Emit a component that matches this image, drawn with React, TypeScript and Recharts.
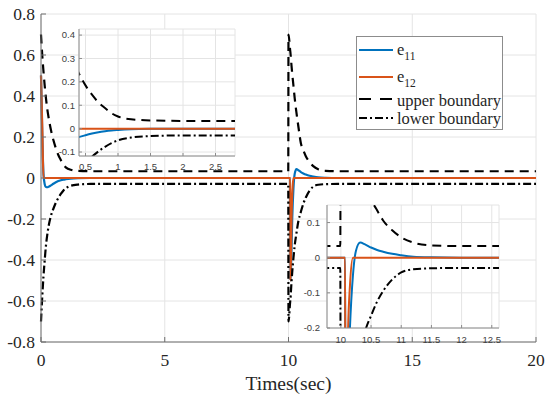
import { CartesianGrid, Label, Legend, Line, LineChart, XAxis, YAxis } from 'recharts'

// Samples (time in seconds). Two entries sit close together
// around t = 10 so the boundary reset and the e12 kick draw as near-vertical jumps.
const TIME = [
  0, 0.05, 0.1, 0.15, 0.2, 0.25, 0.3, 0.4, 0.5, 0.6, 0.7, 0.8, 0.9, 1.0, 1.2, 1.5, 2, 3, 5, 9.99,
  10, 10.07, 10.075, 10.1, 10.12, 10.15, 10.2, 10.25, 10.32, 10.4, 10.5, 10.6, 10.7, 10.85, 11, 11.2,
  11.5, 12, 13, 15, 20,
]
const E11 = [
  0.5, 0.22, 0.02, -0.03, -0.044, -0.045, -0.043, -0.036, -0.028, -0.021, -0.015, -0.011, -0.008,
  -0.006, -0.003, -0.001, 0, 0, 0, 0,
  0, 0, -0.5, -0.45, -0.35, -0.2, -0.05, 0.02, 0.043, 0.038, 0.029, 0.022, 0.017, 0.011, 0.007, 0.003,
  0.001, 0, 0, 0, 0,
]
const E12 = [
  0.5, 0.25, 0, 0, 0, 0, 0, 0, 0, 0, 0, 0, 0, 0, 0, 0, 0, 0, 0, 0,
  0, 0, -0.5, -0.38, -0.2, -0.08, 0, 0, 0, 0, 0, 0, 0, 0, 0, 0,
  0, 0, 0, 0, 0,
]
const UPPER = [
  0.7, 0.6, 0.52, 0.45, 0.39, 0.34, 0.3, 0.235, 0.185, 0.145, 0.112, 0.088, 0.066, 0.052, 0.04,
  0.035, 0.033, 0.033, 0.033, 0.033,
  0.7, 0.62, 0.615, 0.58, 0.55, 0.51, 0.45, 0.39, 0.32, 0.25, 0.17, 0.135, 0.106, 0.078, 0.058,
  0.043, 0.035, 0.033, 0.033, 0.033, 0.033,
]
const LOWER = [
  -0.7, -0.58, -0.48, -0.4, -0.33, -0.28, -0.24, -0.185, -0.15, -0.12, -0.097, -0.078, -0.062,
  -0.05, -0.038, -0.032, -0.029, -0.029, -0.029, -0.029,
  -0.7, -0.6, -0.595, -0.55, -0.51, -0.46, -0.39, -0.33, -0.27, -0.21, -0.165, -0.125, -0.095,
  -0.062, -0.042, -0.033, -0.03, -0.029, -0.029, -0.029, -0.029,
]

const MAIN_X_TICKS = [0, 5, 10, 15, 20]
const MAIN_Y_TICKS = [-0.8, -0.6, -0.4, -0.2, 0, 0.2, 0.4, 0.6, 0.8]
const INSET1_X_TICKS = [0.5, 1, 1.5, 2, 2.5]
const INSET1_Y_TICKS = [-0.1, 0, 0.1, 0.2, 0.3, 0.4]
const INSET2_X_TICKS = [10, 10.5, 11, 11.5, 12, 12.5]
const INSET2_Y_TICKS = [-0.2, -0.1, 0, 0.1]

const ROWS = TIME.map((t, i) => ({
  t,
  e11: E11[i],
  e12: E12[i],
  upper: UPPER[i],
  lower: LOWER[i],
}))

const SERIES = [
  { key: 'e11', color: '#0072BD', dash: undefined as string | undefined },
  { key: 'e12', color: '#D95319', dash: undefined as string | undefined },
  { key: 'upper', color: '#000000', dash: '9 6' },
  { key: 'lower', color: '#000000', dash: '8 3 2 3' },
]

const SERIF = "'Liberation Serif', 'Times New Roman', serif"
const SANS = "'Liberation Sans', Arial, sans-serif"
const AXIS = '#6e6e6e'
const GRID = '#e4e4e4'

function seriesLines(width: number) {
  return SERIES.map((s) => (
    <Line
      key={s.key}
      type="monotone"
      dataKey={s.key}
      stroke={s.color}
      strokeWidth={width}
      strokeDasharray={s.dash}
      dot={false}
      activeDot={false}
      isAnimationActive={false}
    />
  ))
}

// MATLAB-style legend with TeX subscripts, drawn by hand inside Recharts' Legend slot
function LegendBox() {
  const rows = [
    { line: 14, base: 19, label: 'e', sub: '11', ...SERIES[0] },
    { line: 41, base: 46, label: 'e', sub: '12', ...SERIES[1] },
    { line: 63, base: 70, label: 'upper boundary', sub: '', ...SERIES[2] },
    { line: 82, base: 88, label: 'lower boundary', sub: '', ...SERIES[3] },
  ]
  return (
    <svg width={148} height={95} style={{ display: 'block' }}>
      <rect x={0.5} y={0.5} width={146} height={93} fill="#fff" stroke="#8c8c8c" />
      {rows.map((r) => (
        <g key={r.key}>
          <line
            x1={3}
            x2={37}
            y1={r.line}
            y2={r.line}
            stroke={r.color}
            strokeWidth={2}
            strokeDasharray={r.key === 'upper' ? '12 9' : r.dash}
          />
          <text x={41} y={r.base} fontFamily={SERIF} fontSize={16.5} fill="#262626">
            {r.label}
            {r.sub && (
              <tspan dy={5} fontSize={11.5}>
                {r.sub}
              </tspan>
            )}
          </text>
        </g>
      ))}
    </svg>
  )
}

type InsetProps = {
  left: number
  top: number
  width: number
  height: number
  xDomain: [number, number]
  yDomain: [number, number]
  xTicks: number[]
  yTicks: number[]
  xTickMargin: number
  yTickMargin: number
}

// zoomed inset: its own chart laid over the main one, clipped to its domain
function Inset(p: InsetProps) {
  const tick = { fill: '#404040', fontSize: 9.5, fontFamily: SANS }
  return (
    <div style={{ position: 'absolute', left: p.left, top: p.top }}>
      <LineChart
        width={p.width}
        height={p.height}
        data={ROWS}
        margin={{ top: 5, right: 10, left: 0, bottom: 0 }}
      >
        <CartesianGrid stroke={GRID} fill="#fff" fillOpacity={1} />
        <XAxis
          dataKey="t"
          type="number"
          domain={p.xDomain}
          ticks={p.xTicks}
          interval={0}
          allowDataOverflow
          height={20}
          stroke="#8c8c8c"
          tickSize={-3}
          tickMargin={p.xTickMargin}
          tick={tick}
        />
        <XAxis
          xAxisId="top"
          orientation="top"
          dataKey="t"
          type="number"
          domain={p.xDomain}
          ticks={p.xTicks}
          allowDataOverflow
          height={0}
          stroke="#8c8c8c"
          tickSize={-3}
          tick={false}
        />
        <YAxis
          type="number"
          domain={p.yDomain}
          ticks={p.yTicks}
          interval={0}
          allowDataOverflow
          width={30}
          stroke="#8c8c8c"
          tickSize={-3}
          tickMargin={p.yTickMargin}
          tick={tick}
        />
        <YAxis
          yAxisId="right"
          orientation="right"
          type="number"
          domain={p.yDomain}
          ticks={p.yTicks}
          allowDataOverflow
          width={0}
          stroke="#8c8c8c"
          tickSize={-3}
          tick={false}
        />
        {seriesLines(2)}
      </LineChart>
    </div>
  )
}

export default function App() {
  const tick = { fill: '#262626', fontSize: 17.5, fontFamily: SERIF }
  return (
    <div style={{ position: 'absolute', left: 0, top: 0, width: 550, height: 396, background: '#fff' }}>
      <LineChart
        width={550}
        height={396}
        data={ROWS}
        margin={{ top: 14, right: 14, left: 0, bottom: 0 }}
      >
        <CartesianGrid stroke={GRID} />
        <XAxis
          dataKey="t"
          type="number"
          domain={[0, 20]}
          ticks={MAIN_X_TICKS}
          interval={0}
          height={54}
          stroke={AXIS}
          tickSize={-5}
          tickMargin={17}
          tick={tick}
        >
          <Label
            value="Times(sec)"
            position="insideBottom"
            offset={6}
            fill="#262626"
            fontSize={19.5}
            fontFamily={SERIF}
          />
        </XAxis>
        <XAxis
          xAxisId="top"
          orientation="top"
          dataKey="t"
          type="number"
          domain={[0, 20]}
          ticks={MAIN_X_TICKS}
          height={0}
          stroke={AXIS}
          tickSize={-5}
          tick={false}
        />
        <YAxis
          type="number"
          domain={[-0.8, 0.8]}
          ticks={MAIN_Y_TICKS}
          interval={0}
          width={41}
          stroke={AXIS}
          tickSize={-5}
          tickMargin={11}
          tick={tick}
        />
        <YAxis
          yAxisId="right"
          orientation="right"
          type="number"
          domain={[-0.8, 0.8]}
          ticks={MAIN_Y_TICKS}
          width={0}
          stroke={AXIS}
          tickSize={-5}
          tick={false}
        />
        {seriesLines(2.2)}
        <Legend
          layout="vertical"
          align="center"
          verticalAlign="middle"
          content={() => <LegendBox />}
          wrapperStyle={{ left: 356, top: 36, width: 148, height: 95 }}
        />
      </LineChart>
      <Inset
        left={49}
        top={24}
        width={196}
        height={152}
        xDomain={[0.4, 2.8]}
        yDomain={[-0.117, 0.426]}
        xTicks={INSET1_X_TICKS}
        yTicks={INSET1_Y_TICKS}
        xTickMargin={10}
        yTickMargin={7}
      />
      <Inset
        left={297}
        top={200}
        width={212}
        height={148}
        xDomain={[9.77, 12.62]}
        yDomain={[-0.2, 0.15]}
        xTicks={INSET2_X_TICKS}
        yTicks={INSET2_Y_TICKS}
        xTickMargin={11}
        yTickMargin={10}
      />
    </div>
  )
}
